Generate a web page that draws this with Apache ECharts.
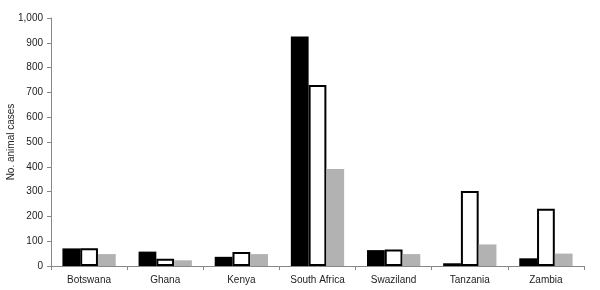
<!DOCTYPE html>
<html><head><meta charset="utf-8">
<script src="https://cdn.jsdelivr.net/npm/echarts@6/dist/echarts.min.js"></script>
<style>html,body{margin:0;padding:0;background:#fff}#c{width:600px;height:290px}</style>
</head><body><div id="c"></div>
<script>
const categories = ['Botswana','Ghana','Kenya','South Africa','Swaziland','Tanzania','Zambia'];
const seriesBlack = [71, 58, 37, 925, 64, 11, 31];
const seriesWhite = [72, 29, 56, 730, 67, 302, 231];
const seriesGray = [48, 23, 48, 391, 48, 87, 50];
const yTicks = [0,100,200,300,400,500,600,700,800,900,1000];

const chart = echarts.init(document.getElementById('c'));
const font = 'Liberation Sans, Arial, sans-serif';
chart.setOption({
  animation: false,
  backgroundColor: '#fff',
  grid: {left: 51, right: 16, top: 18, bottom: 24, containLabel: false, outerBoundsMode: 'none'},
  xAxis: {
    type: 'category', data: categories,
    axisLine: {lineStyle: {color: '#888', width: 1}},
    axisTick: {show: true, length: 4, lineStyle: {color: '#888'}},
    axisLabel: {color: '#222', fontSize: 10, fontFamily: font, margin: 9, interval: 0}
  },
  yAxis: {
    type: 'value', min: 0, max: 1000, interval: 100,
    name: 'No. animal cases', nameLocation: 'middle', nameGap: 35, nameRotate: 90,
    nameMoveOverlap: false,
    nameTextStyle: {color: '#222', fontSize: 10, fontFamily: font},
    axisLine: {show: true, lineStyle: {color: '#888'}},
    axisTick: {show: true, length: 4, lineStyle: {color: '#888'}},
    splitLine: {show: false},
    axisLabel: {color: '#222', fontSize: 10, fontFamily: font, margin: 8,
      formatter: v => yTicks.includes(v) ? v.toLocaleString('en-US') : ''}
  },
  series: [
    {type: 'bar', data: seriesBlack, barGap: '0%', barCategoryGap: '30%',
     itemStyle: {color: '#000'}},
    {type: 'bar', data: seriesWhite, barGap: '0%', barCategoryGap: '30%',
     itemStyle: {color: '#fff', borderColor: '#000', borderWidth: 2}},
    {type: 'bar', data: seriesGray, barGap: '0%', barCategoryGap: '30%',
     itemStyle: {color: '#b2b2b2'}}
  ]
});
</script></body></html>
